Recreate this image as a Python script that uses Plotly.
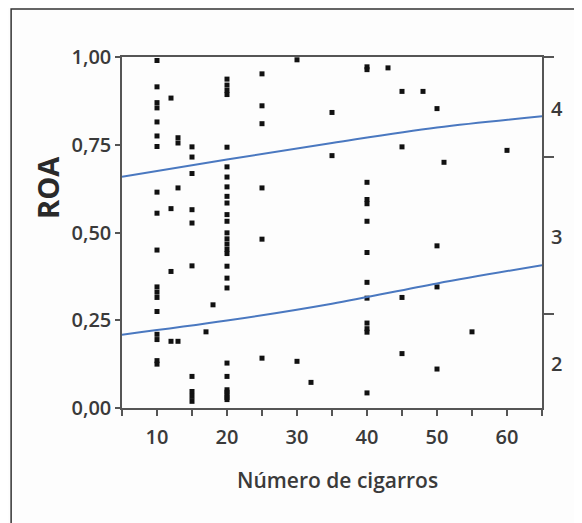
import plotly.graph_objects as go

# ---- data ----
x_10 = [10] * 18
y_10 = [0.99, 0.915, 0.87, 0.855, 0.815, 0.775, 0.745, 0.615, 0.555, 0.45, 0.345, 0.33, 0.315, 0.275, 0.21, 0.195, 0.135, 0.125]
x_12 = [12, 12, 12, 12]
y_12 = [0.883, 0.568, 0.389, 0.19]
x_13 = [13, 13, 13, 13]
y_13 = [0.77, 0.755, 0.627, 0.19]
x_15 = [15] * 10
y_15 = [0.744, 0.715, 0.668, 0.565, 0.527, 0.405, 0.09, 0.047, 0.033, 0.019]
x_17 = [17, 18]
y_17 = [0.217, 0.294]
x_20 = [20] * 27
y_20 = [0.937, 0.92, 0.905, 0.893, 0.743, 0.687, 0.658, 0.63, 0.603, 0.584, 0.551, 0.532,
        0.499, 0.482, 0.467, 0.452, 0.44, 0.404, 0.37, 0.342, 0.128, 0.09, 0.052, 0.038, 0.024, 0.03, 0.045]
x_25 = [25] * 6
y_25 = [0.952, 0.861, 0.81, 0.627, 0.481, 0.142]
x_30 = [30, 30, 32]
y_30 = [0.992, 0.133, 0.073]
x_35 = [35, 35]
y_35 = [0.842, 0.719]
x_40 = [40] * 13
y_40 = [0.972, 0.964, 0.643, 0.594, 0.582, 0.532, 0.443, 0.358, 0.313, 0.242, 0.226, 0.216, 0.043]
x_43 = [43, 45, 45, 45, 45, 48]
y_43 = [0.969, 0.902, 0.744, 0.315, 0.155, 0.902]
x_50 = [50, 50, 50, 50, 51, 55, 60]
y_50 = [0.853, 0.462, 0.345, 0.111, 0.7, 0.217, 0.734]

line_x = [5, 20, 35, 50, 65]
upper_y = [0.659, 0.708, 0.755, 0.799, 0.831]
lower_y = [0.209, 0.249, 0.297, 0.355, 0.407]

x_tickvals = [5, 10, 15, 20, 25, 30, 35, 40, 45, 50, 55, 60, 65]
x_ticktext = ["", "10", "", "20", "", "30", "", "40", "", "50", "", "60", ""]
y_tickvals = [0, 0.25, 0.5, 0.75, 1.0]
y_ticktext = ["0,00", "0,25", "0,50", "0,75", "1,00"]
right_tick_pos = [0.269, 0.716, 1.0]
right_label_pos = [0.126, 0.487, 0.851]
right_label_text = ["2", "3", "4"]

xs = x_10 + x_12 + x_13 + x_15 + x_17 + x_20 + x_25 + x_30 + x_35 + x_40 + x_43 + x_50
ys = y_10 + y_12 + y_13 + y_15 + y_17 + y_20 + y_25 + y_30 + y_35 + y_40 + y_43 + y_50

FONT = "Open Sans"
TXT = "#3a3a3a"

fig = go.Figure()
fig.add_trace(go.Scatter(x=xs, y=ys, mode="markers",
                         marker=dict(symbol="square", size=5, color="#111111",
                                     line=dict(width=0)),
                         showlegend=False, hoverinfo="skip"))
for ly in (upper_y, lower_y):
    fig.add_trace(go.Scatter(x=line_x, y=ly, mode="lines", line=dict(color="#4a78c0", width=2, shape="spline"),
                             showlegend=False, hoverinfo="skip"))

# invisible traces to activate right axes
fig.add_trace(go.Scatter(x=[None], y=[None], yaxis="y2", showlegend=False))
fig.add_trace(go.Scatter(x=[None], y=[None], yaxis="y3", showlegend=False))

axis_line = "#555555"
tickfont = dict(size=20, color=TXT, family=FONT, weight=600)
fig.update_layout(
    width=582, height=523,
    margin=dict(l=114, r=48, t=49, b=123),
    paper_bgcolor="#fdfdfd", plot_bgcolor="#fdfdfd",
    font=dict(family=FONT, color=TXT),
    xaxis=dict(range=[5, 65], tickvals=x_tickvals, ticktext=x_ticktext,
               ticks="outside", ticklen=6, tickcolor=axis_line, tickwidth=1.5,
               showline=True, linecolor=axis_line, linewidth=1.5, mirror=True,
               showgrid=False, zeroline=False, ticklabelstandoff=4,
               tickfont=tickfont),
    yaxis=dict(range=[0, 1], tickvals=y_tickvals, ticktext=y_ticktext,
               ticks="outside", ticklen=5, tickcolor=axis_line, tickwidth=1.5,
               showline=True, linecolor=axis_line, linewidth=1.5,
               showgrid=False, zeroline=False,
               tickfont=tickfont),
    yaxis2=dict(range=[0, 1], overlaying="y", side="right", tickvals=right_tick_pos,
                ticks="outside", ticklen=10, tickcolor=axis_line, tickwidth=1.5,
                showticklabels=False, showline=True, linecolor=axis_line, linewidth=2,
                showgrid=False, zeroline=False),
    yaxis3=dict(range=[0, 1], overlaying="y", side="right", tickvals=right_label_pos,
                ticktext=right_label_text, ticks="", showline=False, showgrid=False, zeroline=False,
                tickfont=tickfont, ticklabelstandoff=8),
    annotations=[dict(text="<b>ROA</b>", xref="paper", yref="paper", x=-0.176, y=0.627,
                      textangle=-90, showarrow=False, xanchor="center", yanchor="middle",
                      font=dict(size=29, color="#2a2a2a", family=FONT)),
                 dict(text="Número de cigarros", xref="paper", yref="paper", x=0.512, y=-0.205,
                      showarrow=False, xanchor="center", yanchor="middle",
                      font=dict(size=21, color=TXT, family=FONT, weight=600))],
    shapes=[dict(type="rect", xref="paper", yref="paper", x0=-0.264, x1=2, y0=-2, y1=1.137,
                 line=dict(color="#333333", width=1.5), fillcolor="rgba(0,0,0,0)", layer="below")],
)

fig.write_html("out.html")
